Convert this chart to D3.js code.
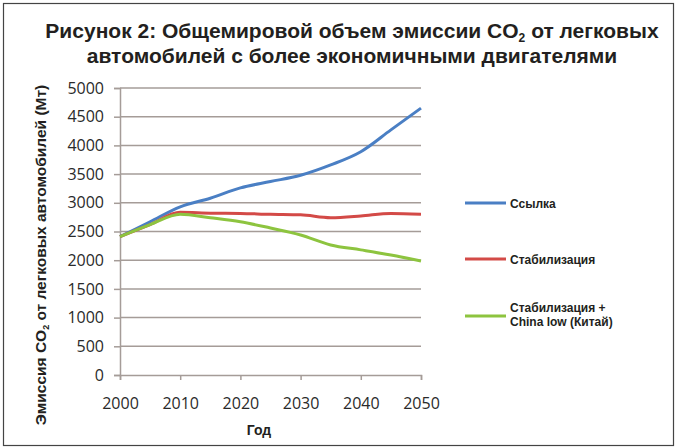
<!DOCTYPE html>
<html>
<head>
<meta charset="utf-8">
<script src="https://cdn.jsdelivr.net/npm/d3@7"></script>
<style>
body { margin: 0; background: #fff; }
</style>
</head>
<body>
<script>
// Data
var years = [2000, 2005, 2010, 2015, 2020, 2025, 2030, 2035, 2040, 2045, 2050];
var reference = [2410, 2670, 2930, 3080, 3260, 3370, 3480, 3660, 3890, 4270, 4650];
var stabilization = [2410, 2620, 2835, 2820, 2815, 2800, 2790, 2740, 2770, 2815, 2800];
var chinaLow = [2410, 2620, 2800, 2740, 2670, 2560, 2440, 2265, 2180, 2090, 1985];
var yTicks = [0, 500, 1000, 1500, 2000, 2500, 3000, 3500, 4000, 4500, 5000];
var xTicks = [2000, 2010, 2020, 2030, 2040, 2050];

var series = [
  {name: "Ссылка", values: reference, color: "#4a7fc4"},
  {name: "Стабилизация", values: stabilization, color: "#d34a47"},
  {name: "Стабилизация +|China low (Китай)", values: chinaLow, color: "#8dc43f"}
];

var W = 679, H = 447;
var margin = {top: 88, right: 258, bottom: 72, left: 120};
var w = W - margin.left - margin.right;
var h = H - margin.top - margin.bottom;

var svg = d3.select("body").append("svg")
  .attr("width", W)
  .attr("height", H);

// outer frame
svg.append("rect")
  .attr("x", 3.5).attr("y", 3.5)
  .attr("width", 670).attr("height", 442)
  .attr("fill", "none")
  .attr("stroke", "#444")
  .attr("stroke-width", 1.2);

// title
var bold = "'Liberation Sans', Arial, sans-serif";
var title = svg.append("text")
  .attr("x", 352).attr("y", 38)
  .attr("text-anchor", "middle")
  .attr("font-family", bold)
  .attr("font-weight", "bold")
  .attr("font-size", "21px")
  .attr("fill", "#231f20");
title.append("tspan").text("Рисунок 2: Общемировой объем эмиссии CO");
title.append("tspan").attr("font-size", "12px").attr("dy", 4).text("2");
title.append("tspan").attr("dy", -4).text(" от легковых");
svg.append("text")
  .attr("x", 352).attr("y", 63)
  .attr("text-anchor", "middle")
  .attr("font-family", bold)
  .attr("font-weight", "bold")
  .attr("font-size", "21px")
  .attr("fill", "#231f20")
  .text("автомобилей с более экономичными двигателями");

var g = svg.append("g")
  .attr("transform", "translate(" + margin.left + "," + margin.top + ")");

var x = d3.scaleLinear().domain([2000, 2050]).range([0, w]);
var y = d3.scaleLinear().domain([0, 5000]).range([h, 0]);

// gridlines
g.selectAll(".grid")
  .data(yTicks.slice(1))
  .enter().append("line")
  .attr("x1", 0).attr("x2", w)
  .attr("y1", function (d) { return y(d); })
  .attr("y2", function (d) { return y(d); })
  .attr("stroke", "#a59c98")
  .attr("stroke-width", 1.5);

// axes
var yAxis = g.append("g")
  .call(d3.axisLeft(y).tickValues(yTicks).tickFormat(d3.format("d")).tickSize(6).tickPadding(10));
var xAxis = g.append("g")
  .attr("transform", "translate(0," + h + ")")
  .call(d3.axisBottom(x).tickValues(xTicks).tickFormat(d3.format("d")).tickSize(5).tickPadding(18));

[yAxis, xAxis].forEach(function (a) {
  a.selectAll("path, line").attr("stroke", "#a59c98").attr("stroke-width", 1.5);
  a.selectAll("text")
    .attr("font-family", "'Open Sans', sans-serif")
    .attr("font-size", "16px")
    .attr("fill", "#2a2a2a");
});

// lines
var line = d3.line()
  .x(function (d, i) { return x(years[i]); })
  .y(function (d) { return y(d); })
  .curve(d3.curveMonotoneX);

g.selectAll(".series")
  .data(series)
  .enter().append("path")
  .attr("d", function (d) { return line(d.values); })
  .attr("fill", "none")
  .attr("stroke", function (d) { return d.color; })
  .attr("stroke-width", 3);

// axis titles
svg.append("text")
  .attr("x", 259).attr("y", 435)
  .attr("text-anchor", "middle")
  .attr("font-family", bold)
  .attr("font-weight", "bold")
  .attr("font-size", "14px")
  .attr("fill", "#231f20")
  .text("Год");

var yt = svg.append("text")
  .attr("transform", "translate(46,255) rotate(-90)")
  .attr("text-anchor", "middle")
  .attr("font-family", bold)
  .attr("font-weight", "bold")
  .attr("font-size", "15.5px")
  .attr("fill", "#231f20");
yt.append("tspan").text("Эмиссия CO");
yt.append("tspan").attr("font-size", "9px").attr("dy", 3).text("2");
yt.append("tspan").attr("dy", -3).text(" от легковых автомобилей (Мт)");

// legend
var legendY = [203, 259, 316];
var legend = svg.selectAll(".legend")
  .data(series)
  .enter().append("g")
  .attr("transform", function (d, i) { return "translate(465," + legendY[i] + ")"; });

legend.append("line")
  .attr("x1", 0).attr("x2", 41)
  .attr("stroke", function (d) { return d.color; })
  .attr("stroke-width", 3);

legend.each(function (d) {
  var parts = d.name.split("|");
  var t = d3.select(this).append("text")
    .attr("x", 45)
    .attr("font-family", bold)
    .attr("font-weight", "bold")
    .attr("font-size", "12px")
    .attr("fill", "#231f20");
  parts.forEach(function (p, i) {
    t.append("tspan")
      .attr("x", 45)
      .attr("y", parts.length > 1 ? (i === 0 ? -4 : 10) : 5)
      .text(p);
  });
});
</script>
</body>
</html>
